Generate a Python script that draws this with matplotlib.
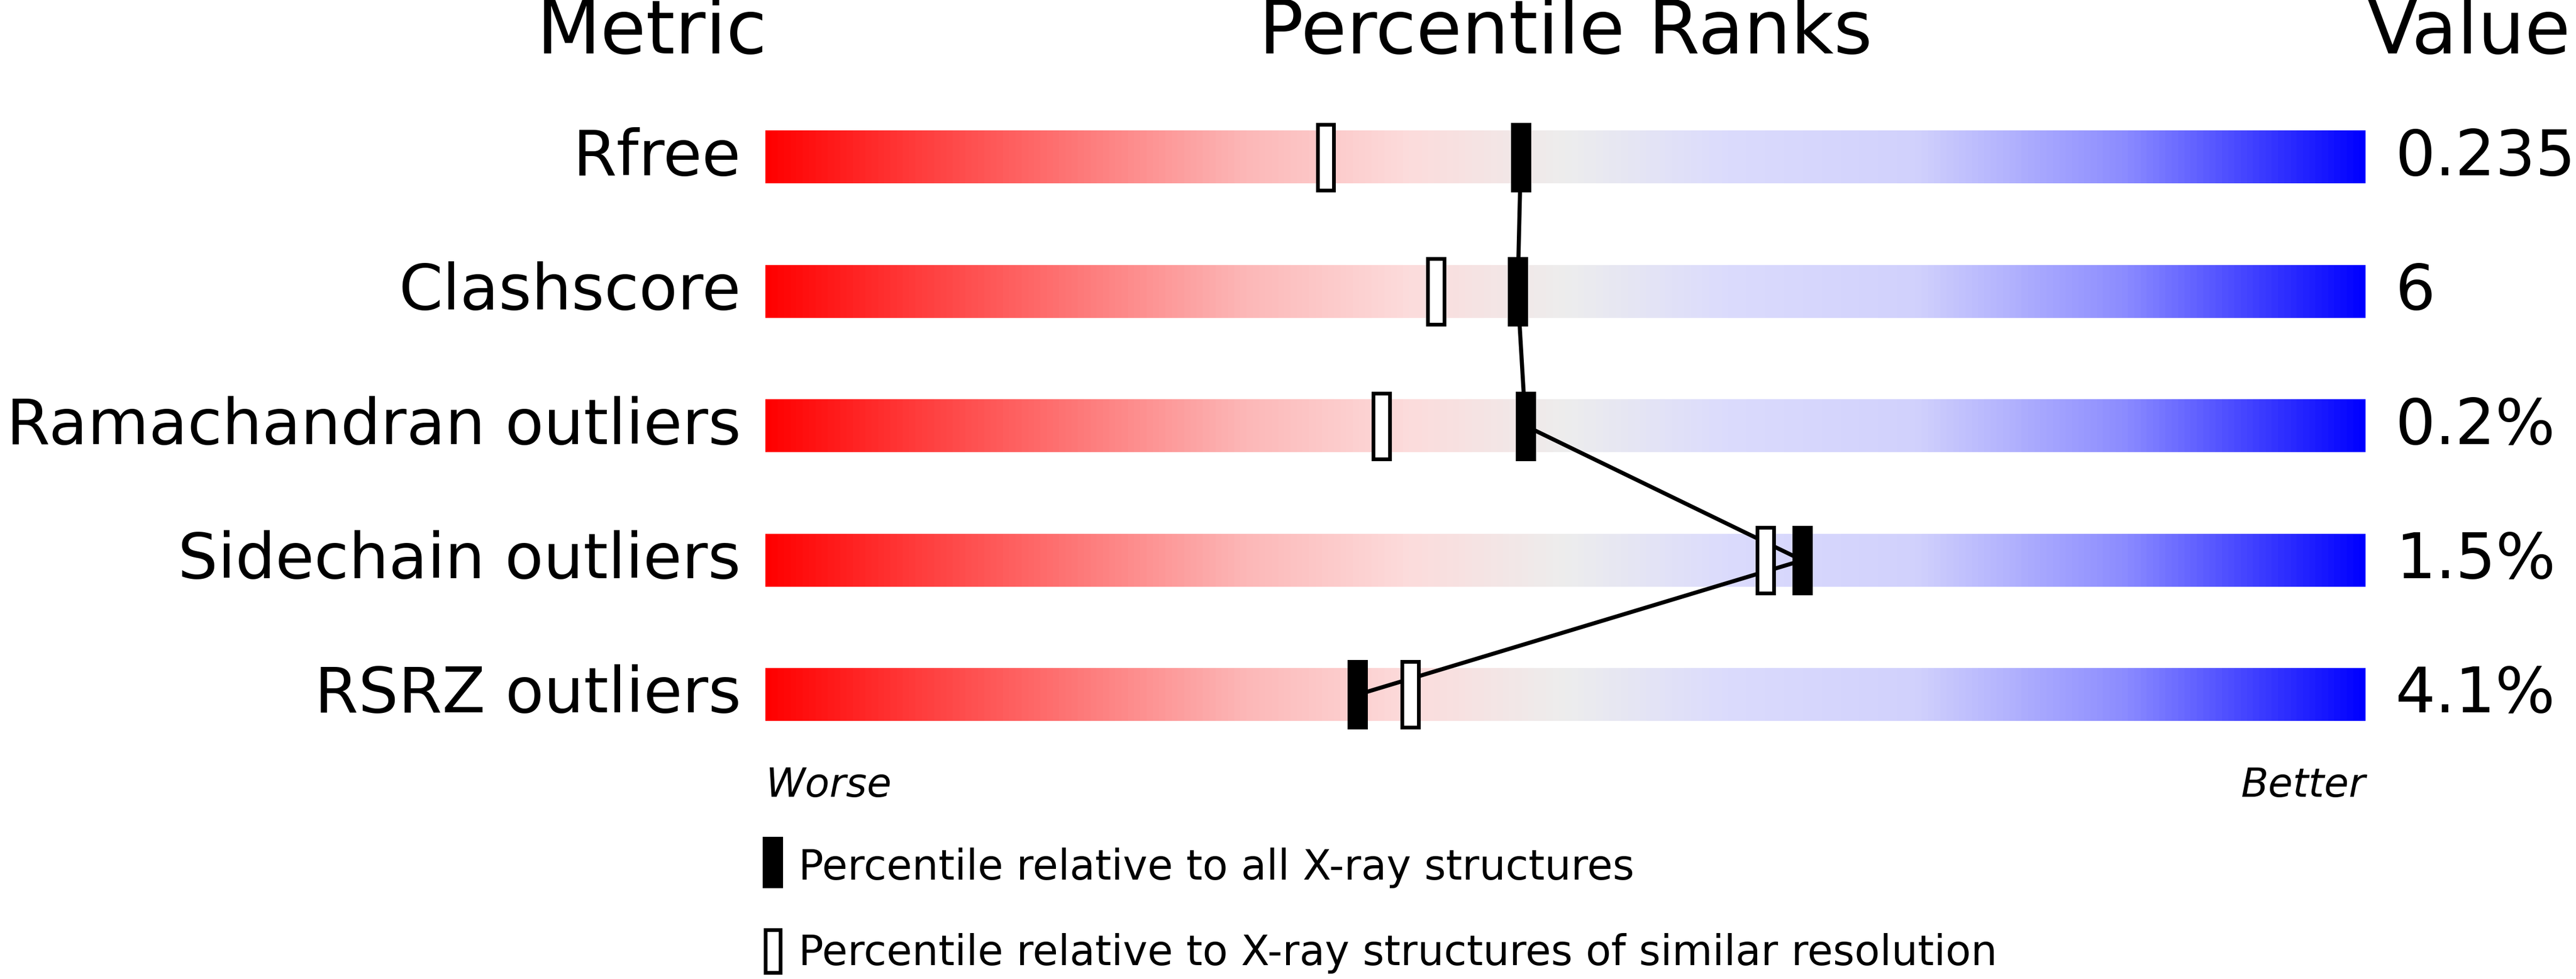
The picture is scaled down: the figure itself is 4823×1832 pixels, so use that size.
import numpy as np
import matplotlib
matplotlib.use("Agg")
import matplotlib.pyplot as plt
from matplotlib.colors import LinearSegmentedColormap
from matplotlib.patches import Rectangle

metrics = ["Rfree", "Clashscore", "Ramachandran outliers", "Sidechain outliers", "RSRZ outliers"]
values = ["0.235", "6", "0.2%", "1.5%", "4.1%"]
pct_all = [47.2, 47.0, 47.5, 64.8, 37.0]
pct_similar = [35.0, 41.9, 38.5, 62.5, 40.3]

W, H = 4823, 1833
fig = plt.figure(figsize=(W/100, H/100), dpi=100)
S = W/1568.0
def fx(px): return px/1568.0
def fy(py): return 1 - py/596.0

ax = fig.add_axes([fx(466), 0, fx(1440)-fx(466), 1])
row = 81.75
ax.set_xlim(0, 100)
ax.set_ylim((596-96)/row, -96/row)
ax.axis("off")

cmap = LinearSegmentedColormap.from_list("g", [
    (0, (1, 0, 0)), (0.1, (1, 0.25, 0.25)), (0.3, (0.99, 0.72, 0.72)), (0.4, (0.99, 0.86, 0.86)),
    (0.5, (0.93, 0.93, 0.93)), (0.6, (0.86, 0.86, 0.99)), (0.72, (0.82, 0.82, 0.99)),
    (0.85, (0.55, 0.55, 1)), (1, (0, 0, 1))])
grad = np.linspace(0, 1, 512)[None, :]
bh = 32/row
mh = 40/row
mw = 10/974*100
for i in range(len(metrics)):
    ax.imshow(grad, cmap=cmap, aspect="auto", extent=(0, 100, i+bh/2, i-bh/2), zorder=1)
    ax.add_patch(Rectangle((pct_similar[i]-mw/2, i-mh/2), mw, mh, facecolor="white",
                           edgecolor="black", lw=5, zorder=3))
    ax.add_patch(Rectangle((pct_all[i]-mw/2, i-mh/2), mw, mh, facecolor="black",
                           edgecolor="black", lw=5, zorder=4))
ax.plot(pct_all, range(len(metrics)), color="black", lw=5.5, zorder=2)

for i, (m, v) in enumerate(zip(metrics, values)):
    y = 96 + i*row
    fig.text(fx(451), fy(y), m, ha="right", va="center", fontsize=85)
    fig.text(fx(1458), fy(y), v, ha="left", va="center", fontsize=85)

fig.text(fx(467), fy(20), "Metric", ha="right", va="center", fontsize=100)
fig.text(fx(953), fy(20), "Percentile Ranks", ha="center", va="center", fontsize=100)
fig.text(fx(1441), fy(20), "Value", ha="left", va="center", fontsize=100)
fig.text(fx(466), fy(478), "Worse", ha="left", va="center", fontsize=54, style="italic")
fig.text(fx(1440), fy(478), "Better", ha="right", va="center", fontsize=54, style="italic")

fig.patches.append(Rectangle((fx(465), fy(540)), fx(11), 30/596, transform=fig.transFigure,
                             facecolor="black", edgecolor="black", lw=3))
fig.patches.append(Rectangle((fx(466), fy(592)), fx(9), 26/596, transform=fig.transFigure,
                             facecolor="white", edgecolor="black", lw=5))
fig.text(fx(486), fy(528), "Percentile relative to all X-ray structures", ha="left", va="center", fontsize=56)
fig.text(fx(486), fy(580), "Percentile relative to X-ray structures of similar resolution", ha="left", va="center", fontsize=56)

fig.savefig("out.png", dpi=100)
